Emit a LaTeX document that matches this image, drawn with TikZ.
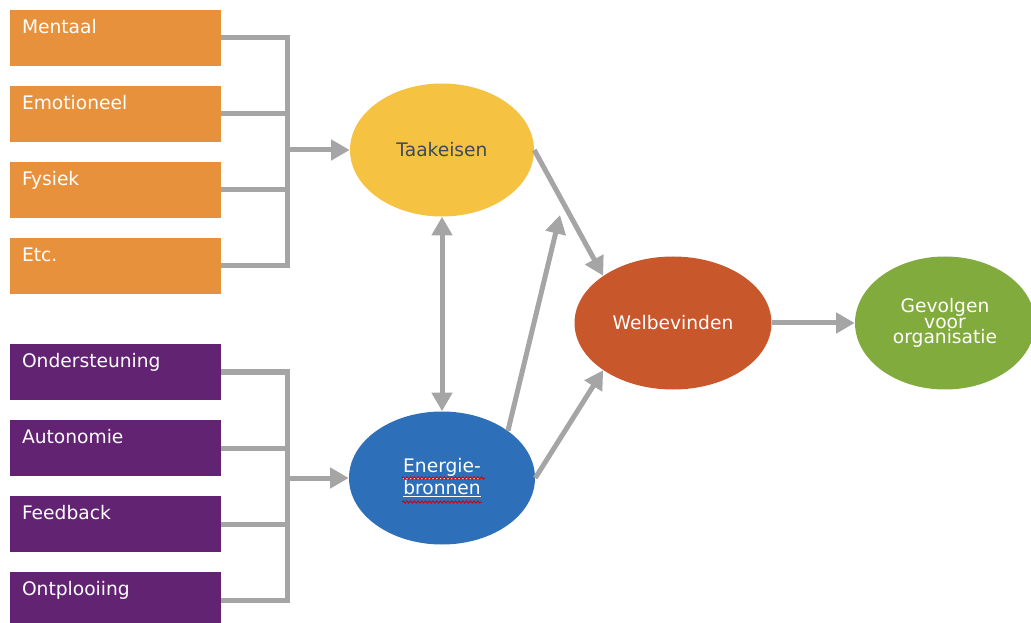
\documentclass[tikz,border=0pt]{standalone}
\usepackage{fontspec}
\setmainfont{DejaVu Sans}
\usetikzlibrary{shapes.geometric,arrows.meta,decorations.pathmorphing}
\definecolor{cOrange}{HTML}{E8913D}
\definecolor{cPurple}{HTML}{622373}
\definecolor{cYellow}{HTML}{F5C242}
\definecolor{cBlue}{HTML}{2E6FBA}
\definecolor{cRed}{HTML}{C8572C}
\definecolor{cGreen}{HTML}{82AB3D}
\definecolor{cGray}{HTML}{A5A5A5}
\definecolor{cDark}{HTML}{3E4A5B}
\tikzset{
  bx/.style={rectangle, minimum width=158.25pt, minimum height=42pt, inner sep=0, draw=none},
  obox/.style={bx, fill=cOrange},
  pbox/.style={bx, fill=cPurple},
  btext/.style={text=white, inner sep=0, font=\fontsize{14}{16}\selectfont},
  ell/.style={ellipse, inner sep=0, minimum height=99.75pt, draw=none, font=\fontsize{14}{16}\selectfont},
  conn/.style={draw=cGray, line width=3.75pt, line join=miter},
  arr/.style={conn, -{Triangle[length=14pt,width=15pt]}},
  darr/.style={conn, {Triangle[length=14pt,width=15pt]}-{Triangle[length=14pt,width=15pt]}},
  squig/.style={draw=red!85!black, line width=0.7pt, decorate, decoration={snake, amplitude=0.8pt, segment length=2.8pt}}
}
\begin{document}
\begin{tikzpicture}[x=0.75pt,y=-0.75pt]
\useasboundingbox (0,0) rectangle (1031,623);
% orange boxes
\foreach \n/\y/\t in {m1/38/Mentaal, m2/114/Emotioneel, m3/190/Fysiek, m4/266/Etc.}{
  \node[obox, label={[btext, anchor=base west, xshift=9pt, yshift=-18pt]north west:\t}] (\n) at (115.5,\y) {};
}
% purple boxes
\foreach \n/\y/\t in {p1/372/Ondersteuning, p2/448/Autonomie, p3/524/Feedback, p4/600/Ontplooiing}{
  \node[pbox, label={[btext, anchor=base west, xshift=9pt, yshift=-18pt]north west:\t}] (\n) at (115.5,\y) {};
}
% ellipses
\node[ell, fill=cYellow, minimum width=138pt, text=cDark] (T) at (442,150) {Taakeisen};
\node[ell, fill=cBlue, minimum width=139.5pt, text=white, align=center, font=\fontsize{14}{16.5}\selectfont] (E) at (442,478) {\underline{Energie-}\\\underline{bronnen}};
\node[ell, fill=cRed, minimum width=147.75pt, text=white] (W) at (673,323) {Welbevinden};
\node[ell, fill=cGreen, minimum width=135pt, text=white, align=center, font=\fontsize{14}{10.5}\selectfont] (G) at (945,323) {Gevolgen\\voor\\organisatie};
% spell-check squiggles
\coordinate (s1a) at (402,478); \coordinate (s1b) at (485,478);
\coordinate (s2a) at (402,502); \coordinate (s2b) at (482,502);
\draw[squig] (s1a) -- (s1b);
\draw[squig] (s2a) -- (s2b);
% junctions
\coordinate (jt) at (287,150);
\coordinate (je) at (287,478);
\coordinate (mod) at (560,215);
\foreach \n in {m1,m2,m3,m4}{ \draw[conn] (\n.east) -| (jt); }
\foreach \n in {p1,p2,p3,p4}{ \draw[conn] (\n.east) -| (je); }
\draw[arr] (jt) -- (T.west);
\draw[arr] (je) -- (E.west);
\draw[darr] (T.south) -- (E.north);
\draw[arr] (T.east) -- (W.north west);
\draw[arr] (E.east) -- (W.south west);
\draw[arr] (E.north east) -- (mod);
\draw[arr] (W.east) -- (G.west);
\end{tikzpicture}
\end{document}
